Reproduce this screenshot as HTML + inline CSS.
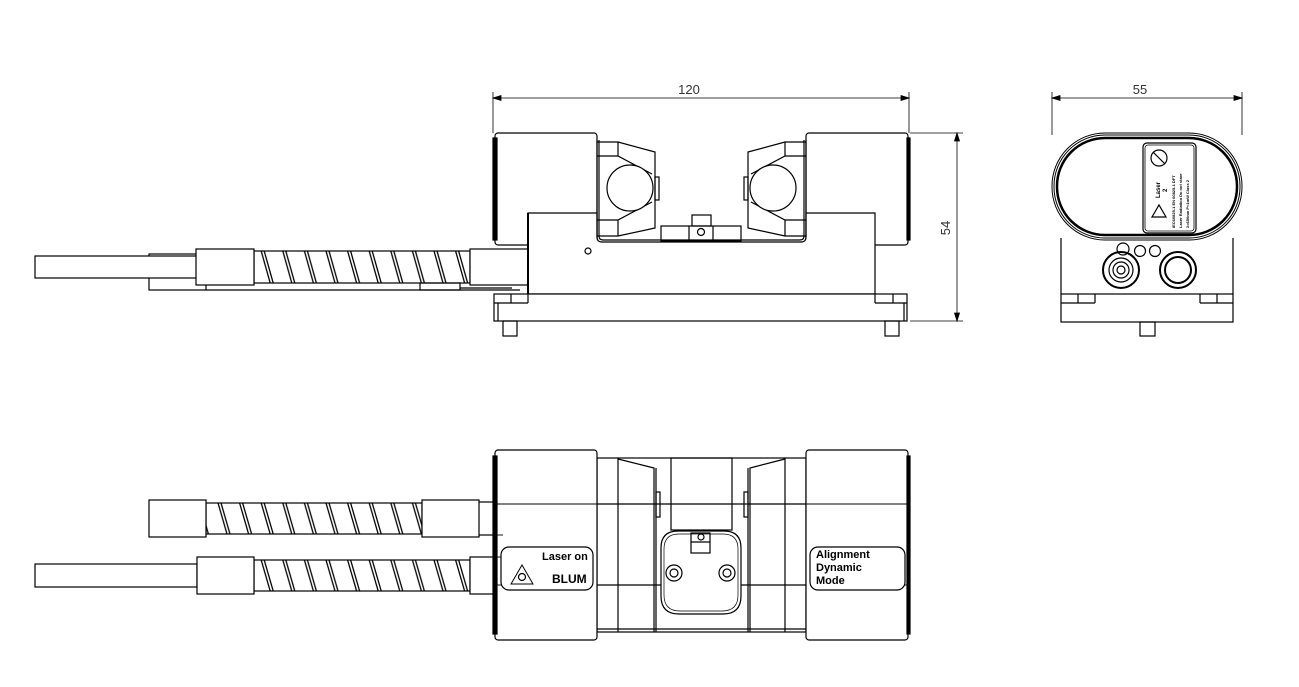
<!DOCTYPE html>
<html><head><meta charset="utf-8"><style>
html,body{margin:0;padding:0;background:#fff}
svg{display:block}
text{font-family:"Liberation Sans",sans-serif}
</style></head><body>
<svg width="1299" height="687" viewBox="0 0 1299 687" xmlns="http://www.w3.org/2000/svg" fill="none" stroke="#000" stroke-width="1.2">
<defs>
<pattern id="sp1" x="0" y="251" width="21.6" height="32" patternUnits="userSpaceOnUse">
<path d="M2 0 L11 32 M5 0 L14 32" stroke="#000" stroke-width="1.3"/>
</pattern>
<pattern id="sp2" x="0" y="503" width="21.6" height="31" patternUnits="userSpaceOnUse">
<path d="M2 0 L11 31 M5 0 L14 31" stroke="#000" stroke-width="1.3"/>
</pattern>
<pattern id="sp3" x="0" y="560" width="21.6" height="31" patternUnits="userSpaceOnUse">
<path d="M2 0 L11 31 M5 0 L14 31" stroke="#000" stroke-width="1.3"/>
</pattern>
</defs>

<!-- ===== Dimensions ===== -->
<g stroke-width="0.8">
<line x1="493" y1="92" x2="493" y2="133"/><line x1="909" y1="92" x2="909" y2="133"/>
<line x1="493" y1="98" x2="909" y2="98"/>
<path d="M493 98 l8 -2.5 v5z M909 98 l-8 -2.5 v5z" fill="#000"/>
<line x1="910" y1="133" x2="963" y2="133"/><line x1="910" y1="321" x2="963" y2="321"/>
<line x1="957" y1="133" x2="957" y2="321"/>
<path d="M957 133 l-2.5 8 h5z M957 321 l-2.5 -8 h5z" fill="#000"/>
<line x1="1052" y1="92" x2="1052" y2="135"/><line x1="1242" y1="92" x2="1242" y2="135"/>
<line x1="1052" y1="98" x2="1242" y2="98"/>
<path d="M1052 98 l8 -2.5 v5z M1242 98 l-8 -2.5 v5z" fill="#000"/>
</g>
<g fill="#333" stroke="none" font-size="13">
<text x="689" y="94" text-anchor="middle">120</text>
<text x="1140" y="94" text-anchor="middle">55</text>
<text x="0" y="0" text-anchor="middle" transform="translate(950,228) rotate(-90)">54</text>
</g>

<!-- ===== Side view ===== -->
<rect x="149" y="254" width="57" height="36"/>
<rect x="35" y="256" width="162" height="22" fill="#fff"/>
<rect x="254" y="251" width="216" height="32" fill="url(#sp1)"/>
<rect x="196" y="249" width="58" height="36" fill="#fff"/>
<rect x="470" y="249" width="58" height="36" fill="#fff"/>
<line x1="206" y1="290" x2="520" y2="290"/>
<rect x="420" y="283" width="40" height="7"/>
<line x1="460" y1="288" x2="512" y2="288"/>
<!-- caps -->
<rect x="495" y="133" width="102" height="112" rx="3" fill="#fff"/>
<rect x="493" y="138" width="4" height="102" fill="#000"/>
<rect x="806" y="133" width="102" height="112" rx="3" fill="#fff"/>
<rect x="907" y="138" width="3" height="102" fill="#000"/>
<!-- main body in front -->
<path d="M528 213 H597 V237 q0 5 5 5 H801 q5 0 5 -5 V213 H875 V294 H528 Z" fill="#fff"/>
<line x1="528" y1="213" x2="528" y2="294" stroke-width="2"/>
<path d="M597 140 V237 M806 140 V237"/>
<path d="M599 140 V236 q0 4 4 4 H800 q4 0 4 -4 V140"/>
<!-- left clamp -->
<path d="M597 142 H618 L655 152 V228 L618 236 H597"/>
<line x1="618" y1="142" x2="618" y2="156"/><line x1="618" y1="220" x2="618" y2="236"/>
<path d="M597 156 H618 L652 174 M597 220 H618 L652 202"/>
<rect x="655" y="177" width="4" height="23"/>
<circle cx="630" cy="188" r="23" fill="#fff"/>
<!-- right clamp -->
<path d="M806 142 H785 L748 152 V228 L785 236 H806"/>
<line x1="785" y1="142" x2="785" y2="156"/><line x1="785" y1="220" x2="785" y2="236"/>
<path d="M806 156 H785 L751 174 M806 220 H785 L751 202"/>
<rect x="744" y="177" width="4" height="23"/>
<circle cx="773" cy="188" r="23" fill="#fff"/>
<!-- center tab -->
<rect x="692" y="215" width="19" height="11"/>
<rect x="661" y="226" width="80" height="15"/>
<line x1="689" y1="226" x2="689" y2="241"/><line x1="713" y1="226" x2="713" y2="241"/>
<circle cx="701" cy="232" r="3.5"/>
<circle cx="588" cy="251" r="3"/>
<!-- base -->
<rect x="494" y="294" width="413" height="27" fill="#fff"/>
<line x1="494" y1="303" x2="528" y2="303"/><line x1="875" y1="303" x2="907" y2="303"/>
<line x1="511" y1="294" x2="511" y2="303"/><line x1="893" y1="294" x2="893" y2="303"/>
<line x1="528" y1="294" x2="528" y2="303"/><line x1="875" y1="294" x2="875" y2="303"/>
<line x1="498" y1="303" x2="498" y2="321"/><line x1="904" y1="303" x2="904" y2="321"/>
<rect x="503" y="321" width="14" height="15"/><rect x="885" y="321" width="14" height="15"/>

<!-- ===== End view ===== -->
<path d="M1061 238 V294 M1233 238 V294"/>
<rect x="1052" y="133" width="190" height="107" rx="53" stroke-width="1"/>
<rect x="1054" y="135" width="186" height="103" rx="51" stroke-width="1"/>
<rect x="1057" y="138" width="180" height="97" rx="48" stroke-width="2.5"/>
<rect x="1143" y="143" width="53" height="90" rx="4"/>
<rect x="1145" y="145" width="49" height="86" rx="3" stroke-width="0.8"/>
<circle cx="1159" cy="158" r="8"/><line x1="1153" y1="152" x2="1165" y2="164"/>
<path d="M1152 217 L1159 205 L1166 217 Z"/>
<g fill="#000" stroke="none" font-size="6" font-weight="bold">
<text transform="translate(1160,198) rotate(-90)">Laser</text>
<text transform="translate(1167,192) rotate(-90)">2</text>
<text transform="translate(1175,228) rotate(-90)" font-size="4">IEC60825-1 EN 60825-1 DFT</text>
<text transform="translate(1182,228) rotate(-90)" font-size="4">Laser Radiation Do not stare</text>
<text transform="translate(1189,228) rotate(-90)" font-size="4">λ=650nm P&lt;1mW Class 2</text>
</g>
<circle cx="1123" cy="249" r="6"/><circle cx="1140" cy="251" r="5.5"/><circle cx="1155" cy="251" r="5.5"/>
<circle cx="1121" cy="270" r="18" stroke-width="2"/>
<circle cx="1121" cy="270" r="12"/>
<circle cx="1121" cy="270" r="8"/><circle cx="1121" cy="270" r="4"/>
<circle cx="1178" cy="270" r="18" stroke-width="2"/>
<circle cx="1178" cy="270" r="13" stroke-width="2"/>
<rect x="1061" y="294" width="172" height="28"/>
<line x1="1061" y1="303" x2="1095" y2="303"/><line x1="1200" y1="303" x2="1233" y2="303"/>
<line x1="1078" y1="294" x2="1078" y2="303"/><line x1="1095" y1="294" x2="1095" y2="303"/>
<line x1="1200" y1="294" x2="1200" y2="303"/><line x1="1217" y1="294" x2="1217" y2="303"/>
<rect x="1140" y="322" width="15" height="14"/>

<!-- ===== Top view ===== -->
<line x1="479" y1="502" x2="495" y2="502"/><line x1="479" y1="535" x2="495" y2="535"/>
<rect x="206" y="503" width="216" height="31" fill="url(#sp2)"/>
<rect x="149" y="500" width="57" height="37" fill="#fff"/>
<rect x="422" y="500" width="57" height="37" fill="#fff"/>
<rect x="35" y="564" width="162" height="23" fill="#fff"/>
<rect x="254" y="560" width="216" height="31" fill="url(#sp3)"/>
<rect x="197" y="557" width="57" height="37" fill="#fff"/>
<rect x="470" y="557" width="25" height="37" fill="#fff"/>
<rect x="597" y="458" width="209" height="174"/>
<line x1="597" y1="629" x2="806" y2="629"/>
<line x1="618" y1="458" x2="618" y2="632"/><line x1="785" y1="458" x2="785" y2="632"/>
<path d="M618 459 L654 468 V632 M785 459 L750 468 V632"/>
<line x1="656" y1="468" x2="656" y2="632"/><line x1="748" y1="468" x2="748" y2="632"/>
<rect x="656" y="492" width="4" height="25"/><rect x="744" y="492" width="4" height="25"/>
<rect x="671" y="458" width="61" height="72"/>
<line x1="597" y1="504" x2="806" y2="504"/>
<line x1="597" y1="585" x2="661" y2="585"/><line x1="741" y1="585" x2="806" y2="585"/>
<path d="M661 548 q0 -17 17 -17 h46 q17 0 17 17 v48 q0 18 -18 18 h-44 q-18 0 -18 -18 z"/>
<path d="M664 549 q0 -15 15 -15 h44 q15 0 15 15 v46 q0 16 -16 16 h-42 q-16 0 -16 -16 z" stroke-width="0.7"/>
<rect x="691" y="533" width="19" height="20"/><line x1="691" y1="542" x2="710" y2="542"/>
<circle cx="701" cy="537" r="3"/>
<circle cx="674" cy="573" r="8"/><circle cx="674" cy="573" r="4"/>
<circle cx="727" cy="573" r="8"/><circle cx="727" cy="573" r="4"/>
<rect x="495" y="450" width="102" height="190" rx="3" fill="#fff"/>
<rect x="493" y="456" width="4" height="178" fill="#000"/>
<rect x="806" y="450" width="102" height="190" rx="3" fill="#fff"/>
<rect x="907" y="456" width="3" height="178" fill="#000"/>
<g stroke-width="0.9">
<line x1="495" y1="504" x2="597" y2="504"/><line x1="806" y1="504" x2="908" y2="504"/>
<line x1="495" y1="585" x2="501" y2="585"/><line x1="903" y1="585" x2="908" y2="585"/>
<line x1="495" y1="535" x2="503" y2="535"/><line x1="495" y1="557" x2="501" y2="557"/>
</g>
<rect x="501" y="547" width="92" height="43" rx="8" fill="#fff"/>
<rect x="810" y="547" width="95" height="43" rx="8" fill="#fff"/>
<path d="M511 584 L522 565 L533 584 Z" stroke-width="1"/>
<circle cx="522" cy="577" r="3.5"/>
<g fill="#000" stroke="none" font-weight="bold">
<text x="542" y="560" font-size="11">Laser on</text>
<text x="552" y="583" font-size="12">BLUM</text>
<text x="816" y="558" font-size="11">Alignment</text>
<text x="816" y="571" font-size="11">Dynamic</text>
<text x="816" y="584" font-size="11">Mode</text>
</g>
</svg>
</body></html>
